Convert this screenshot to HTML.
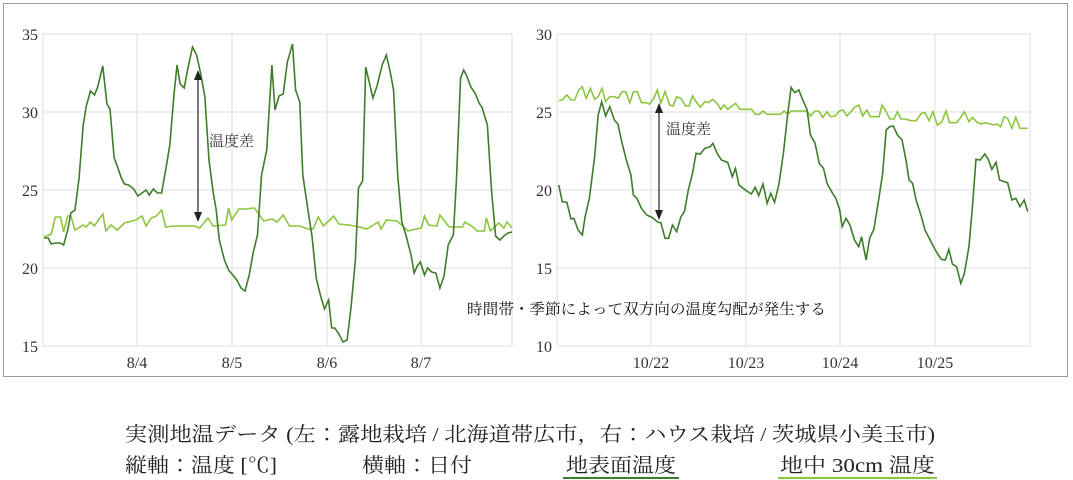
<!DOCTYPE html>
<html><head><meta charset="utf-8"><style>
html,body{margin:0;padding:0;background:#fff;}
svg{display:block;font-family:"Liberation Serif","Noto Serif CJK JP",serif;}
polyline{vector-effect:non-scaling-stroke;}
</style></head><body>
<svg width="1073" height="480" viewBox="0 0 1073 480" xmlns="http://www.w3.org/2000/svg">
<rect x="0" y="0" width="1073" height="480" fill="#fff"/>
<rect x="3.5" y="3.5" width="1064" height="373" fill="none" stroke="#999" stroke-width="1"/>
<g stroke="#e3e3e3" stroke-width="1.2">
<line x1="43" y1="34" x2="512" y2="34"/><line x1="43" y1="112" x2="512" y2="112"/>
<line x1="43" y1="190" x2="512" y2="190"/><line x1="43" y1="268" x2="512" y2="268"/>
<line x1="43" y1="346" x2="512" y2="346"/>
<line x1="43" y1="34" x2="43" y2="346"/><line x1="137" y1="34" x2="137" y2="346"/>
<line x1="232" y1="34" x2="232" y2="346"/><line x1="327" y1="34" x2="327" y2="346"/>
<line x1="421" y1="34" x2="421" y2="346"/><line x1="512" y1="34" x2="512" y2="346"/>
<line x1="557" y1="34" x2="1030" y2="34"/><line x1="557" y1="112" x2="1030" y2="112"/>
<line x1="557" y1="190" x2="1030" y2="190"/><line x1="557" y1="268" x2="1030" y2="268"/>
<line x1="557" y1="346" x2="1030" y2="346"/>
<line x1="557" y1="34" x2="557" y2="346"/><line x1="651" y1="34" x2="651" y2="346"/>
<line x1="746" y1="34" x2="746" y2="346"/><line x1="840" y1="34" x2="840" y2="346"/>
<line x1="935" y1="34" x2="935" y2="346"/><line x1="1030" y1="34" x2="1030" y2="346"/>
</g>
<g font-size="16" fill="#333">
<text x="38" y="40" text-anchor="end">35</text><text x="38" y="118" text-anchor="end">30</text>
<text x="38" y="196" text-anchor="end">25</text><text x="38" y="274" text-anchor="end">20</text>
<text x="38" y="352" text-anchor="end">15</text>
<text x="137" y="368" text-anchor="middle">8/4</text><text x="232" y="368" text-anchor="middle">8/5</text>
<text x="327" y="368" text-anchor="middle">8/6</text><text x="421" y="368" text-anchor="middle">8/7</text>
<text x="552" y="40" text-anchor="end">30</text><text x="552" y="118" text-anchor="end">25</text>
<text x="552" y="196" text-anchor="end">20</text><text x="552" y="274" text-anchor="end">15</text>
<text x="552" y="352" text-anchor="end">10</text>
<text x="651" y="368" text-anchor="middle">10/22</text><text x="746" y="368" text-anchor="middle">10/23</text>
<text x="840" y="368" text-anchor="middle">10/24</text><text x="935" y="368" text-anchor="middle">10/25</text>
</g>
<g transform="translate(43,0) scale(1.031,1) translate(-43,0)">
<polyline fill="none" stroke="#8cc63f" stroke-width="1.6" points="44,237 51,234 55,217 60,217 63,232 67,216 70,216 74,230 82,225 85,227 89,222 93,226 96,221 101,214 104,231 109,225 115,230 122,223 129,221 133,220 139,216 143,226 148,218 153,216 158,210 162,227 170,226 180,226 190,226 195,228 203,218 208,226 220,225 223,208 226,220 233,209 240,209 248,208 257,221 265,219 270,222 276,215 282,226 292,226 300,229 305,229 310,217 315,226 325,216 330,224 340,225 350,227 357,229 362,226 368,222 371,229 376,220 386,221 392,226 397,231 405,229 410,228 413,216 417,225 425,226 428,215 437,227 450,227 452,222 460,227 464,231 471,231 473,218 477,231 485,223 490,228 493,222 498,228"/>
<polyline fill="none" stroke="#3e7d2b" stroke-width="1.6" points="44,238 48,238 51,244 55,243 60,243 63,245 67,230 70,213 74,210 78,178 82,125 85,106 89,91 93,95 96,87 101,66 105,104 108,109 112,158 115,166 119,178 122,184 126,185 131,189 135,196 139,193 143,190 146,195 150,189 154,193 158,193 162,170 166,145 170,95 173,65 176,84 180,88 183,71 188,47 192,55 196,74 200,97 204,160 208,192 211,210 214,240 219,260 223,270 227,275 231,280 235,288 239,291 243,275 247,252 251,235 255,175 260,150 265,65 268,110 272,96 276,94 280,62 285,44 288,90 292,102 295,175 300,210 304,237 308,278 312,295 316,309 320,300 323,328 326,328 330,334 334,342 338,340 342,305 346,260 349,188 353,181 356,67 363,98 367,86 372,65 376,55 380,73 383,90 387,175 391,222 395,235 400,255 403,273 406,266 409,262 413,275 416,268 420,272 424,273 428,288 432,276 436,245 441,235 444,180 448,78 451,70 454,76 458,87 462,93 466,103 469,108 474,125 478,190 482,236 486,240 490,236 494,233 498,232"/>
</g>
<g transform="translate(520,0) scale(0.3521,0.33333)">
<polyline fill="none" stroke="#8cc63f" stroke-width="1.6" points="110,302 120,300 133,285 145,300 155,300 167,270 177,260 188,295 200,265 212,298 222,290 233,265 243,305 255,290 268,290 278,295 290,275 300,275 312,308 322,275 333,275 345,308 357,308 368,312 380,295 390,270 400,310 412,275 425,315 435,318 445,290 457,295 470,318 480,318 490,288 502,308 512,322 525,305 535,308 547,298 558,308 570,328 580,315 590,328 602,318 612,310 625,328 640,328 658,328 668,343 680,343 690,333 702,343 720,343 740,343 750,333 760,343 770,333 790,333 815,333 825,348 838,333 848,333 860,352 872,335 882,350 895,348 907,333 918,330 928,348 940,335 950,322 962,315 973,348 985,330 995,350 1010,350 1020,350 1028,315 1040,335 1050,357 1062,357 1072,335 1082,357 1095,357 1110,362 1125,362 1140,340 1150,338 1162,362 1173,335 1185,375 1197,368 1210,333 1220,368 1240,368 1250,355 1262,335 1275,365 1285,352 1298,367 1310,372 1320,368 1335,372 1345,375 1355,372 1365,380 1375,350 1385,355 1397,385 1408,352 1420,385 1442,385"/>
<polyline fill="none" stroke="#3e7d2b" stroke-width="1.6" points="110,555 120,605 133,607 145,657 153,655 165,690 177,705 185,650 197,595 212,470 222,345 232,305 243,348 255,320 268,360 278,372 290,430 302,480 315,525 322,585 332,595 345,625 360,645 375,652 392,667 400,668 412,715 422,715 433,675 445,695 457,650 467,635 478,570 490,520 500,460 512,462 525,445 540,440 548,430 560,460 572,480 590,487 603,530 612,505 622,555 640,570 657,582 668,562 678,587 690,552 702,610 712,580 723,607 735,555 748,460 760,345 770,262 780,278 792,270 803,300 815,328 825,405 838,430 850,490 862,505 872,550 885,575 897,595 908,630 915,680 926,655 937,675 950,720 962,740 970,710 983,780 993,715 1005,688 1020,590 1030,520 1040,390 1050,380 1060,378 1072,405 1085,420 1097,485 1105,540 1115,550 1125,600 1140,650 1150,690 1160,710 1172,735 1185,760 1197,778 1208,780 1218,748 1228,792 1240,800 1252,850 1262,820 1275,740 1285,620 1295,478 1307,480 1320,462 1330,478 1340,508 1352,487 1362,540 1375,545 1385,548 1397,600 1408,595 1420,620 1432,600 1442,635"/>
</g>
<g stroke="#222" stroke-width="1.2" fill="#222">
<line x1="198" y1="76" x2="198" y2="218"/>
<polygon points="198,70 194,80 202,80" stroke="none"/><polygon points="198,222 194,212 202,212" stroke="none"/>
<line x1="659" y1="109" x2="659" y2="216"/>
<polygon points="659,103 655,113 663,113" stroke="none"/><polygon points="659,220 655,210 663,210" stroke="none"/>
</g>
<g font-size="15" fill="#333">
<text x="209" y="146">温度差</text>
<text x="666" y="134">温度差</text>
</g>
<text x="467" y="314" font-size="15" fill="#111" textLength="359" lengthAdjust="spacingAndGlyphs">時間帯・季節によって双方向の温度勾配が発生する</text>
<g font-size="20" fill="#222">
<text x="125" y="441" textLength="810" lengthAdjust="spacingAndGlyphs">実測地温データ (左：露地栽培 / 北海道帯広市，右：ハウス栽培 / 茨城県小美玉市)</text>
<text x="125" y="472" textLength="152" lengthAdjust="spacingAndGlyphs">縦軸：温度 [℃]</text>
<text x="362" y="472" textLength="110" lengthAdjust="spacingAndGlyphs">横軸：日付</text>
<text x="566" y="472" textLength="110" lengthAdjust="spacingAndGlyphs">地表面温度</text>
<text x="780" y="472" textLength="155" lengthAdjust="spacingAndGlyphs">地中 30cm 温度</text>
</g>
<line x1="563" y1="478" x2="679" y2="478" stroke="#3e7d2b" stroke-width="2"/>
<line x1="778" y1="478" x2="937" y2="478" stroke="#8cc63f" stroke-width="2"/>
</svg>
</body></html>
